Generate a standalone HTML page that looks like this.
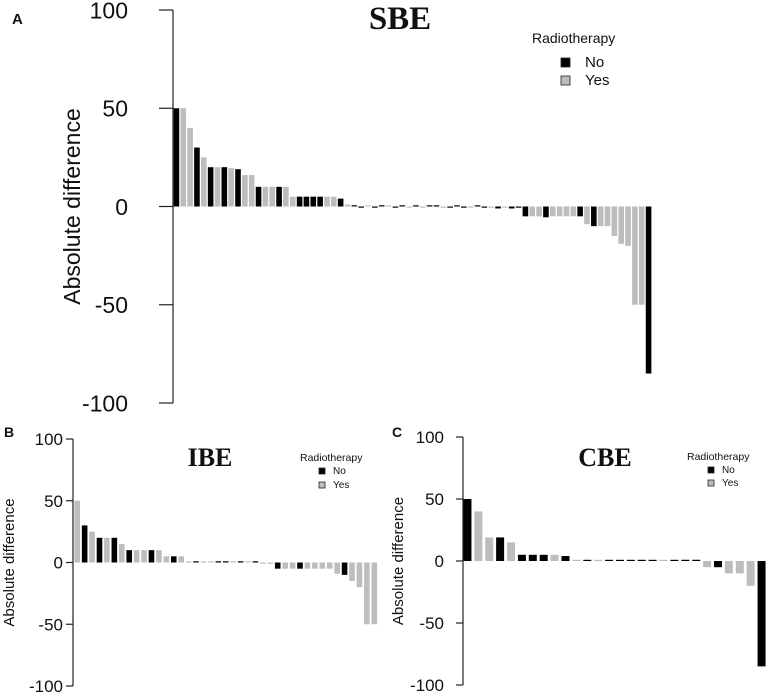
<!DOCTYPE html>
<html><head><meta charset="utf-8"><style>
html,body{margin:0;padding:0;background:#fff;}
svg{display:block;}
text{font-family:"Liberation Sans",Arial,sans-serif;fill:#111;}
.ttl{font-family:"Liberation Serif",serif;font-weight:bold;}
</style></head><body>
<svg id="chart" width="768" height="695" viewBox="0 0 768 695" xmlns="http://www.w3.org/2000/svg"></svg>
<script>
// Panel A (SBE)
const catsA = Array.from({length:70},(_, i)=>'P'+(i+1));
const valsA = [50,50,40,30,25,20,20,20,19.5,19,16,16,10,10,10,10,10,5,5,5,5,5,5,5,4,1,
 0.5,-0.5,0.5,-0.5,0.5,0.5,-0.5,0.5,-0.5,0.5,-0.5,0.5,0.5,-0.5,-0.5,0.5,-0.5,-0.5,0.5,-0.5,-0.5,-1,-0.5,-1,-0.5,
 -5,-5,-5,-5.5,-5,-5,-5,-5,-5,-9,-10,-10,-10,-15,-19,-20,-50,-50,-85];
const radA = ['N','Y','Y','N','Y','N','Y','N','Y','N','Y','Y','N','Y','Y','N','Y','Y','N','N','N','N','Y','Y','N','Y',
 'N','N','Y','N','N','Y','N','N','Y','N','Y','N','N','Y','N','N','N','Y','N','N','Y','N','Y','N','N',
 'N','Y','Y','N','Y','Y','Y','Y','N','Y','N','Y','Y','Y','Y','Y','Y','Y','N'];
// Panel B (IBE)
const valsB = [50,30,25,20,20,20,15,10,10,10,10,10,5,5,5,1,1,0.5,0.5,1,1,0.5,1,0.5,1,-1,-1,-5,-5,-5,-5,-5,-5,-5,-5,-9,-10,-15,-20,-50,-50];
const radB = ['Y','N','Y','N','Y','N','Y','N','Y','Y','N','Y','Y','N','Y','Y','N','Y','Y','N','N','Y','N','Y','N','Y','Y','N','Y','Y','N','Y','Y','Y','Y','Y','N','Y','Y','Y','Y'];
// Panel C (CBE)
const valsC = [50,40,19,19,15,5,5,5,5,4,0.5,0.5,0.5,0.5,0.5,0.5,0.5,0.5,0.5,0.5,1,1,-5,-5,-10,-10,-20,-85];
const radC = ['N','Y','Y','N','Y','N','N','N','Y','N','Y','N','Y','N','N','N','N','N','Y','N','N','N','Y','N','Y','Y','Y','N'];
const yTicks = [100,50,0,-50,-100];
const yTickLabels = ['100','50','0','-50','-100'];

const svg = document.getElementById('chart');
const NS = 'http://www.w3.org/2000/svg';
function mk(tag, attrs, parent){const e=document.createElementNS(NS,tag);for(const k in attrs)e.setAttribute(k,attrs[k]);(parent||svg).appendChild(e);return e;}

function panel(cfg){
  const g = mk('g',{});
  
  
  const y = v => cfg.y0 + (100 - v) / 200 * (cfg.y1 - cfg.y0);
  const ax = mk('line',{x1:cfg.ax,y1:cfg.y0,x2:cfg.ax,y2:cfg.y1,stroke:'#222','stroke-width':1.2},g);
  
  
  yTicks.forEach((t,i)=>{
    const tk = mk('line',{x1:cfg.ax-cfg.tick,y1:y(t),x2:cfg.ax,y2:y(t),stroke:'#222','stroke-width':1.2},g);
    
    
    const tl = mk('text',{x:cfg.ax-cfg.tick-cfg.lgap,y:y(t)+cfg.fs*0.36,'text-anchor':'end','font-size':cfg.fs},g);
    tl.textContent = yTickLabels[i];
    
    
  });
  const yl = mk('text',{x:cfg.ylx,y:y(0),'text-anchor':'middle','font-size':cfg.yfs,transform:`rotate(-90 ${cfg.ylx} ${y(0)})`},g);
  yl.textContent='Absolute difference';
  
  
  const n = cfg.vals.length;
  const pitch = (cfg.xEnd - cfg.xStart) / n;
  const xs = i => cfg.xStart + i * pitch;
  cfg.vals.forEach((v,i)=>{
    let top = Math.min(y(v), y(0)), h = Math.abs(y(v)-y(0));
    if (h < 1.2) { h = 1.2; top = v >= 0 ? y(0)-1.2 : y(0); }
    const b = mk('rect',{x:xs(i)+(pitch-cfg.bw)/2,y:top,width:cfg.bw,height:h,fill:cfg.rad[i]==='N'?'#000':'#bdbdbd'},g);
    
    
  });
  const t = mk('text',{x:cfg.tx,y:cfg.ty,'text-anchor':'middle','font-size':cfg.tfs,class:'ttl'},g);
  t.textContent = cfg.title;
  
  
  const pl = mk('text',{x:cfg.px,y:cfg.py,'font-size':cfg.pfs,'font-weight':'bold'},g);
  pl.textContent = cfg.letter;
  
  
  const L = cfg.leg;
  const lg = mk('g',{},g);
  
  
  const lt = mk('text',{x:L.x,y:L.y,'font-size':L.fs},lg);
  lt.textContent='Radiotherapy';
  
  
  [['No','#000'],['Yes','#bdbdbd']].forEach((e,i)=>{
    const sy = L.sy + i*L.dy;
    const sq = mk('rect',{x:L.sx,y:sy,width:L.s,height:L.s,fill:e[1],stroke:'#222','stroke-width':0.8},lg);
    
    
    const tx = mk('text',{x:L.sx+L.s+L.gap,y:sy+L.s,'font-size':L.ifs},lg);
    tx.textContent=e[0];
    
    
  });
}

panel({name:'panel-a-sbe',vals:valsA,rad:radA,ax:173,y0:10,y1:403,tick:14,lgap:31,fs:23,ylx:80,yfs:23,
  xStart:173,xEnd:652,bw:5.6,title:'SBE',tx:400,ty:29,tfs:33,letter:'A',px:12,py:24,pfs:15,
  leg:{x:532,y:43,fs:14,sx:561,sy:58,dy:18,s:9,gap:15,ifs:15}});
panel({name:'panel-b-ibe',vals:valsB,rad:radB,ax:73,y0:439,y1:686,tick:7,lgap:3,fs:17,ylx:14,yfs:15,
  xStart:73.5,xEnd:378,bw:5.6,title:'IBE',tx:210,ty:466,tfs:26,letter:'B',px:4,py:437,pfs:14,
  leg:{x:300,y:461,fs:10.5,sx:319,sy:468,dy:14,s:6,gap:8,ifs:10}});
panel({name:'panel-c-cbe',vals:valsC,rad:radC,ax:463,y0:437,y1:685,tick:7,lgap:12,fs:17,ylx:403,yfs:15,
  xStart:462,xEnd:767,bw:8,title:'CBE',tx:605,ty:466,tfs:26,letter:'C',px:392,py:437,pfs:14,
  leg:{x:687,y:460,fs:10.5,sx:708,sy:467,dy:13,s:6,gap:8,ifs:10}});
</script>
</body></html>
